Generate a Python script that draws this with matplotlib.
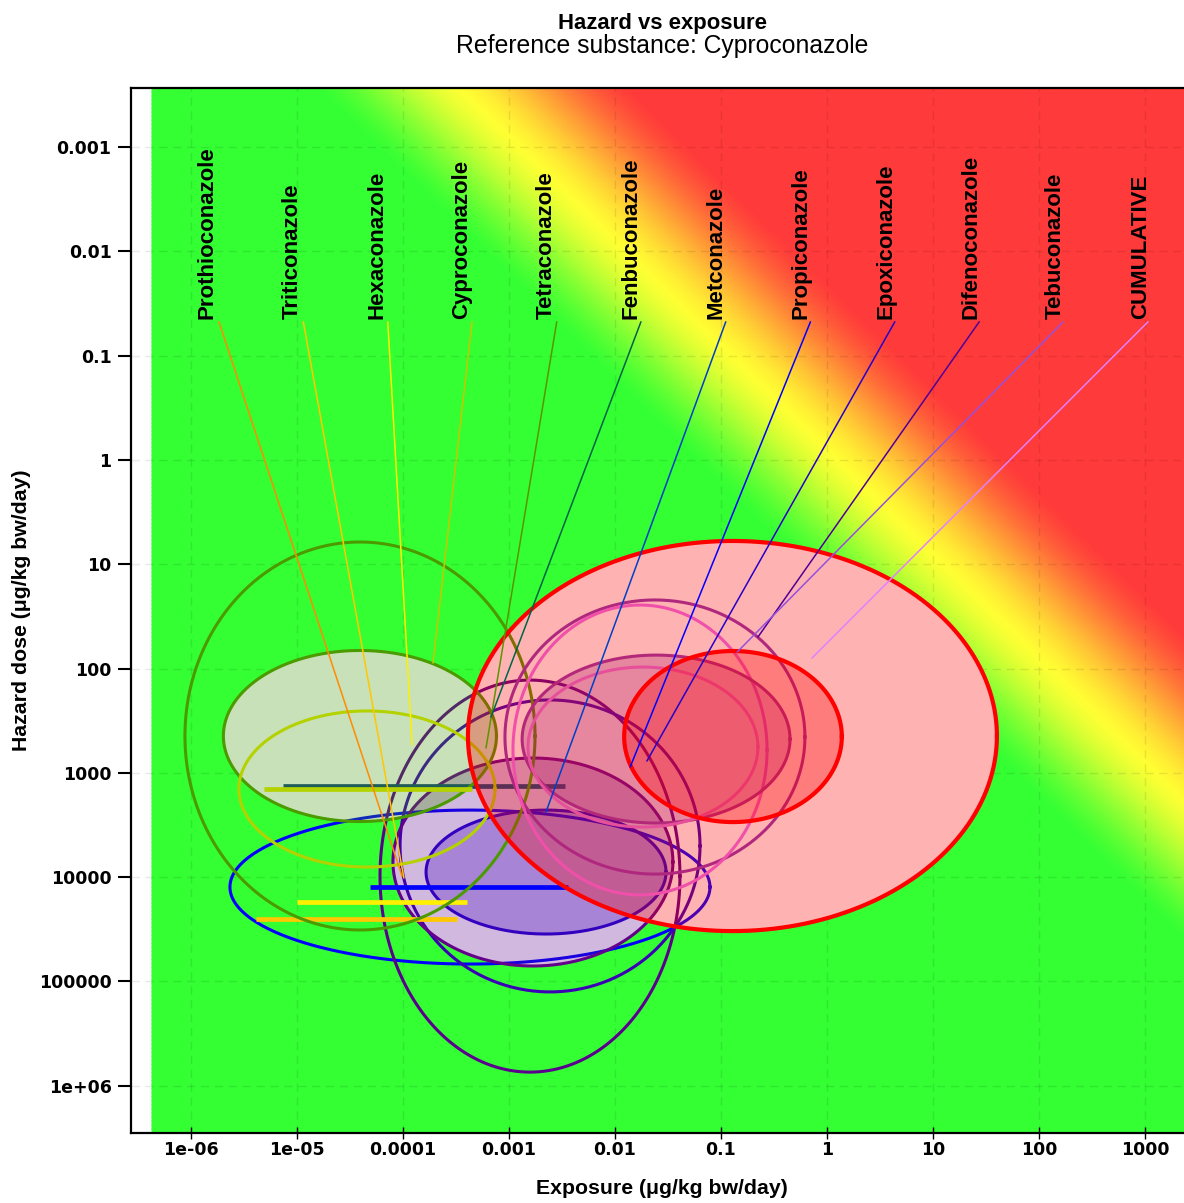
import numpy as np
import matplotlib
matplotlib.use('Agg')
import matplotlib.pyplot as plt
from matplotlib.colors import ListedColormap, TwoSlopeNorm
from matplotlib.ticker import FixedLocator, FixedFormatter, NullLocator

plt.rcParams['font.family'] = ['Liberation Sans', 'DejaVu Sans']

# ---------------- data ----------------
substances = ['Prothioconazole', 'Triticonazole', 'Hexaconazole', 'Cyproconazole',
              'Tetraconazole', 'Fenbuconazole', 'Metconazole', 'Propiconazole',
              'Epoxiconazole', 'Difenoconazole', 'Tebuconazole', 'CUMULATIVE']
label_colors = ['#FF8C00', '#FFC800', '#FFF000', '#C8C800', '#5A9600', '#006446',
                '#0040C8', '#0000FF', '#2800C8', '#500096', '#9650DC', '#E080FF']
point_exposure = [9.8e-5, 1.02e-4, 1.22e-4, 1.92e-4, 6.07e-4, 6.76e-4,
                  2.23e-3, 0.0139, 0.020, 0.223, 0.142, 0.721]
point_hazard = [9770, 10200, 541, 88.5, 578, 292, 2380, 879, 771, 49.9, 69.5, 79.3]

# uncertainty regions (bounding values of each ellipse), in drawing order
region_exp_lo = [2.33e-6, 6.07e-5, 9.38e-5, 8.04e-5, 1.65e-4,
                 8.77e-7, 2.02e-6, 2.83e-6,
                 4.1e-4, 9.16e-4, 1.09e-3, 1.33e-3, 1.51e-3, 0.0122]
region_exp_hi = [0.0787, 0.041, 0.0634, 0.0352, 0.0303,
                 1.76e-3, 7.62e-4, 7.38e-4,
                 40.1, 0.619, 0.272, 0.448, 0.223, 1.38]
region_haz_lo = [2275, 129, 200, 721, 2275,
                 6.12, 67.1, 255,
                 5.98, 22.0, 24.6, 74.3, 96.8, 67.9]
region_haz_hi = [68100, 7.4e5, 1.26e5, 71100, 35100,
                 32100, 2930, 8000,
                 32900, 9350, 14800, 3030, 3310, 2965]
region_edge = ['#0000FF', '#5A008C', '#3C00B4', '#64008C', '#3200BE',
               '#4B9B00', '#4B9B00', '#B4D200',
               '#FF0000', '#B0287E', '#F050AA', '#B4287A', '#E6509B', '#FF0000']
region_fill = [None, None, None, '#5A008C', '#3C00BE',
               None, '#3C9600', None,
               '#FF0000', None, None, '#AA146E', None, '#FF0000']

# exposure ranges at fixed hazard
bar_hazard = [1324, 12450, 17340, 25240, 1429]
bar_exp_lo = [7.38e-6, 4.88e-5, 1.0e-5, 4.1e-6, 4.89e-6]
bar_exp_hi = [3.37e-3, 3.6e-3, 4.02e-4, 3.23e-4, 4.48e-4]
bar_colors = ['#14467A', '#0000FF', '#FFF000', '#FFC800', '#B4D200']

x_ticks = [1e-6, 1e-5, 1e-4, 1e-3, 1e-2, 1e-1, 1, 10, 100, 1000]
x_tick_labels = ['1e-06', '1e-05', '0.0001', '0.001', '0.01', '0.1', '1', '10', '100', '1000']
y_ticks = [1e-3, 1e-2, 1e-1, 1, 10, 100, 1000, 1e4, 1e5, 1e6]
y_tick_labels = ['0.001', '0.01', '0.1', '1', '10', '100', '1000', '10000', '100000', '1e+06']

# ---------------- figure ----------------
W, H = 1184, 1203
fig = plt.figure(figsize=(W / 100, H / 100), dpi=100)
ax = fig.add_axes([131 / W, 1 - 1133 / H, (1184 - 131) / W, (1133 - 88) / H])
ax.set_xscale('log')
ax.set_yscale('log')
xlim_log = (-6.566, 3.368)
ylim_log = (-3.566, 6.453)
ax.set_xlim(10 ** xlim_log[0], 10 ** xlim_log[1])
ax.set_ylim(10 ** ylim_log[1], 10 ** ylim_log[0])

# background colour scale: red -> yellow -> green with soft transitions
red_c = np.array([255, 58, 58]) / 255
yel_c = np.array([255, 255, 51]) / 255
grn_c = np.array([51, 255, 51]) / 255
p = np.linspace(0, 1, 512)[:, None]
t1 = np.clip(p / 0.5, 0, 1)
t2 = np.clip((p - 0.5) / 0.5, 0, 1)
s1 = 0.5 * t1 + 0.5 * t1 * t1 * (3 - 2 * t1)
s2 = 0.5 * t2 + 0.5 * t2 * t2 * (3 - 2 * t2)
cols = np.where(p < 0.5, red_c + (yel_c - red_c) * s1, yel_c + (grn_c - yel_c) * s2)
cmap = ListedColormap(cols)

gx = np.linspace(-6.368, xlim_log[1], 260)
gy = np.linspace(ylim_log[0], ylim_log[1], 260)
LX, LY = np.meshgrid(gx, gy)
D = LY - LX
ax.pcolormesh(10 ** gx, 10 ** gy, D, cmap=cmap,
              norm=TwoSlopeNorm(vmin=-1.7, vcenter=-0.1, vmax=1.25),
              shading='gouraud', zorder=0.1, rasterized=True)

ax.set_axisbelow(True)
ax.grid(True, which='major', color='black', alpha=0.09, linestyle=(0, (6, 4)), linewidth=1.0)


def ellipse_xy(elo, ehi, hlo, hhi, n=400):
    t = np.linspace(0, 2 * np.pi, n)
    cx = (np.log10(elo) + np.log10(ehi)) / 2
    rx = (np.log10(ehi) - np.log10(elo)) / 2
    cy = (np.log10(hlo) + np.log10(hhi)) / 2
    ry = (np.log10(hhi) - np.log10(hlo)) / 2
    return 10 ** (cx + rx * np.cos(t)), 10 ** (cy + ry * np.sin(t))


# white bases of filled regions
for i in range(len(region_exp_lo)):
    if region_fill[i] is not None:
        xs, ys = ellipse_xy(region_exp_lo[i], region_exp_hi[i], region_haz_lo[i], region_haz_hi[i])
        ax.fill(xs, ys, color='white', lw=0, zorder=1)

z = 2.0
bar_before_green = [0, 1, 2, 3]
for i in range(len(region_exp_lo)):
    if i == 5:  # exposure bars drawn before the green group
        for b in bar_before_green:
            ax.plot([bar_exp_lo[b], bar_exp_hi[b]], [bar_hazard[b], bar_hazard[b]],
                    color=bar_colors[b], lw=3.4, solid_capstyle='butt', zorder=z)
            z += 0.01
    xs, ys = ellipse_xy(region_exp_lo[i], region_exp_hi[i], region_haz_lo[i], region_haz_hi[i])
    red = region_edge[i] == '#FF0000'
    if region_fill[i] is not None:
        ax.fill(xs, ys, color=region_fill[i], alpha=0.30 if red else 0.28, lw=0, zorder=z)
        z += 0.01
    ax.plot(xs, ys, color=region_edge[i], lw=3.0 if red else 2.2, zorder=z)
    z += 0.01
    if i == 7:
        b = 4
        ax.plot([bar_exp_lo[b], bar_exp_hi[b]], [bar_hazard[b], bar_hazard[b]],
                color=bar_colors[b], lw=3.4, solid_capstyle='butt', zorder=z)
        z += 0.01

# labels with leader lines
label_x = (218 + 84.8 * np.arange(len(substances)) - 131) / 1053
label_y = (1133 - 319) / 1045
for i, name in enumerate(substances):
    ax.annotate(name, xy=(point_exposure[i], point_hazard[i]), xycoords='data',
                xytext=(label_x[i], label_y), textcoords='axes fraction',
                rotation=90, ha='right', va='bottom', fontsize=16, fontweight='bold',
                color='black', zorder=10,
                arrowprops=dict(arrowstyle='-', color=label_colors[i], lw=1.1,
                                shrinkA=0, shrinkB=0, relpos=(1, 0)))

# axes styling
ax.xaxis.set_major_locator(FixedLocator(x_ticks))
ax.xaxis.set_major_formatter(FixedFormatter(x_tick_labels))
ax.xaxis.set_minor_locator(NullLocator())
ax.yaxis.set_major_locator(FixedLocator(y_ticks))
ax.yaxis.set_major_formatter(FixedFormatter(y_tick_labels))
ax.yaxis.set_minor_locator(NullLocator())
ax.tick_params(axis='x', direction='inout', length=8, width=1.0, pad=2, labelsize=12.5)
ax.tick_params(axis='y', direction='out', length=9.5, width=1.5, pad=4.5, labelsize=12.5)
for lab in ax.get_xticklabels() + ax.get_yticklabels():
    lab.set_fontweight('bold')
    lab.set_family('DejaVu Sans')
for s in ['left', 'top', 'bottom']:
    ax.spines[s].set_linewidth(1.6)
ax.spines['right'].set_visible(False)

fig.text(662 / W, 1 - 24 / H, 'Hazard vs exposure', ha='center', va='center',
         fontsize=15.9, fontweight='bold')
fig.text(662 / W, 1 - 46 / H, 'Reference substance: Cyproconazole', ha='center', va='center',
         fontsize=17.8)
fig.text(662 / W, 1 - 1189 / H, 'Exposure (\u03bcg/kg bw/day)', ha='center', va='center',
         fontsize=15.3, fontweight='bold')
fig.text(22 / W, 1 - 610 / H, 'Hazard dose (\u03bcg/kg bw/day)', ha='center', va='center',
         rotation=90, fontsize=15.3, fontweight='bold')

fig.savefig('out.png', dpi=100)
